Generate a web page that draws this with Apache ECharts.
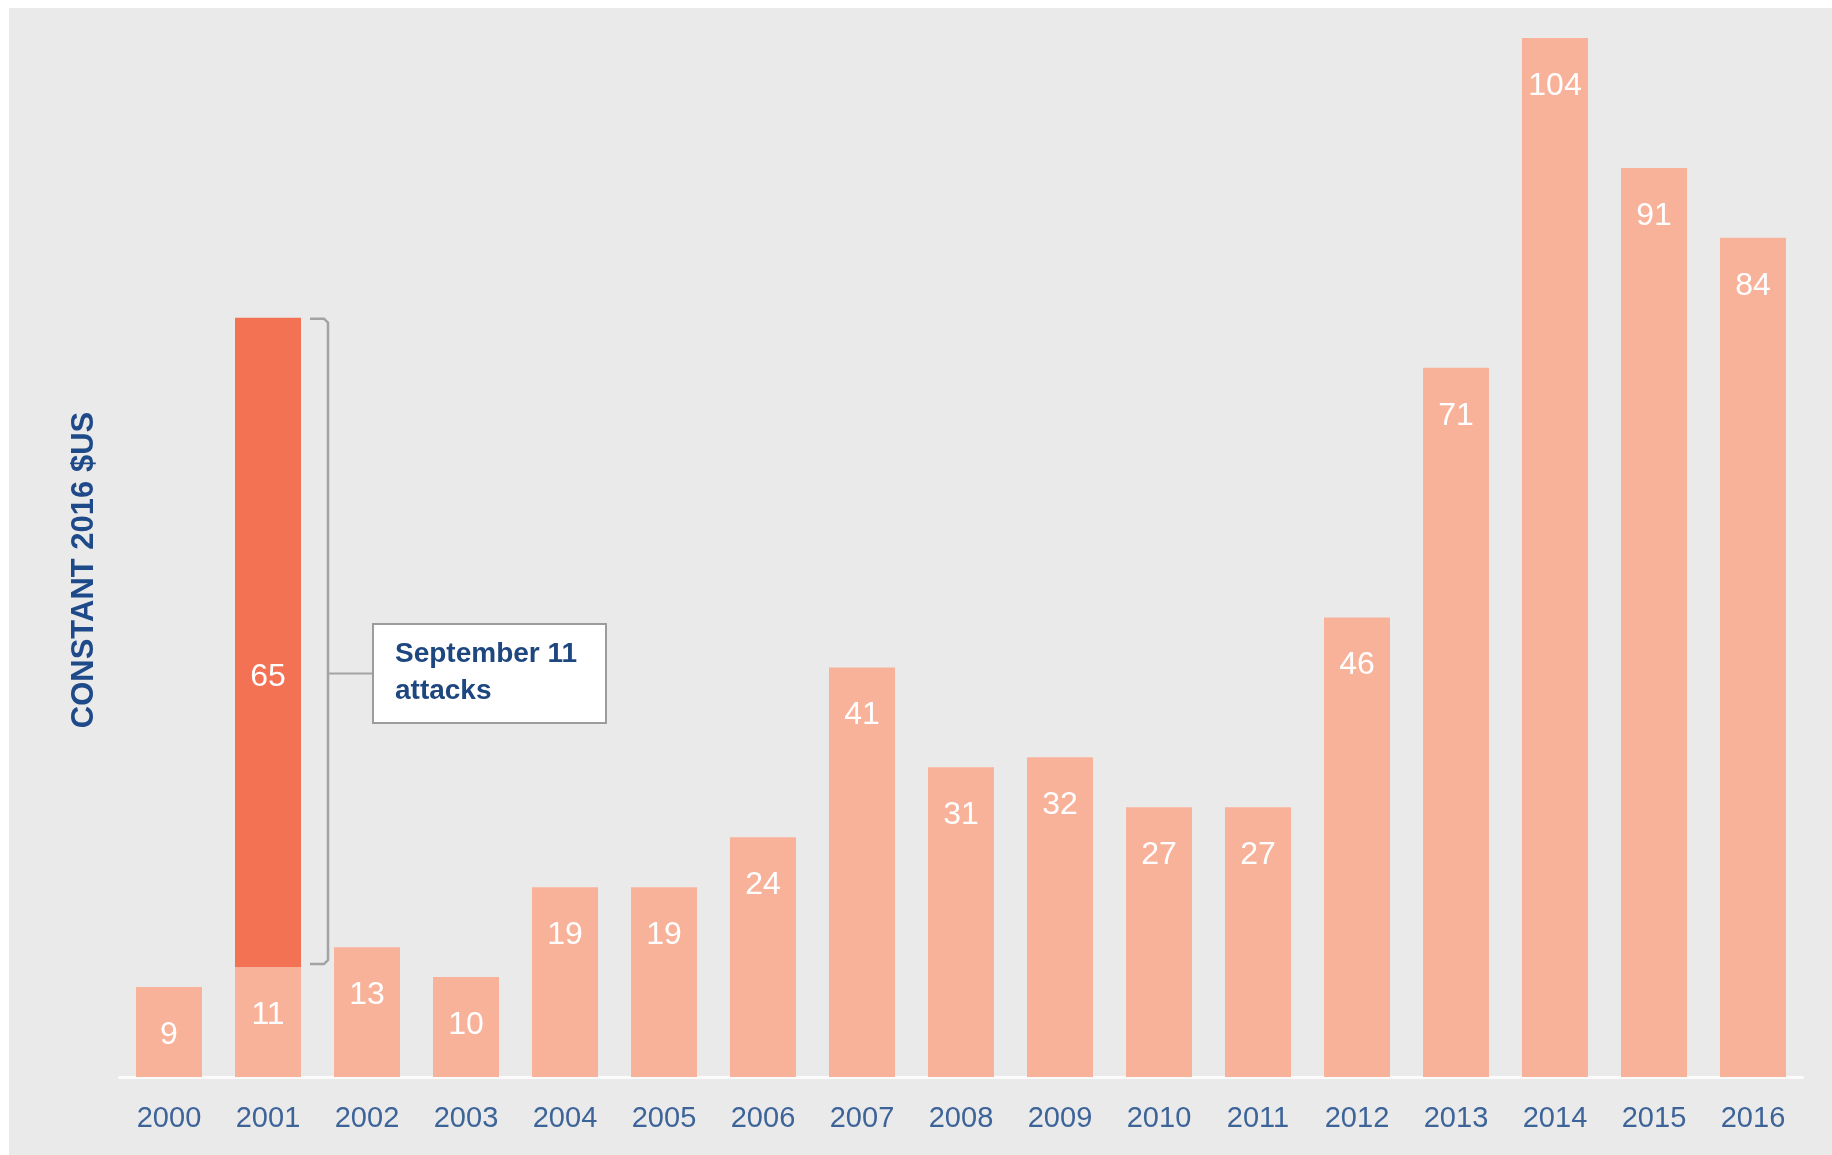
<!DOCTYPE html>
<html>
<head>
<meta charset="utf-8">
<title>Constant 2016 $US</title>
<script src="https://cdn.jsdelivr.net/npm/echarts@6/dist/echarts.min.js"></script>
<style>
  html, body { margin: 0; padding: 0; background: #fff; }
  #chart { width: 1832px; height: 1155px; }
</style>
</head>
<body>
<div id="chart"></div>
<script>
// 数据
const years = ['2000','2001','2002','2003','2004','2005','2006','2007','2008',
               '2009','2010','2011','2012','2013','2014','2015','2016'];
const baseValues = [9, 11, 13, 10, 19, 19, 24, 41, 31, 32, 27, 27, 46, 71, 104, 91, 84];
// 2001 年的额外部分（9·11）
const attackYear = '2001';
const attackValue = 65;
const attackNote = 'September 11\nattacks';
const axisTitle = 'CONSTANT 2016 $US';

const BAR_W = 66;
const chart = echarts.init(document.getElementById('chart'));

const attackData = years.map(y => (y === attackYear ? attackValue : '-'));

const option = {
  backgroundColor: '#ffffff',
  animation: false,
  grid: { left: 119.5, right: 29.5, top: 38, bottom: 78 },
  xAxis: {
    type: 'category',
    data: years,
    axisTick: { show: false },
    axisLine: { lineStyle: { color: '#fbfbfb', width: 3 } },
    axisLabel: {
      color: '#3d6499',
      fontFamily: 'Liberation Sans',
      fontSize: 29,
      margin: 27
    }
  },
  yAxis: {
    type: 'value',
    min: 0,
    max: 104,
    axisLabel: { show: false },
    axisLine: { show: false },
    axisTick: { show: false },
    splitLine: { show: false }
  },
  series: [
    {
      type: 'bar',
      stack: 'total',
      barWidth: BAR_W,
      data: baseValues,
      itemStyle: { color: '#f9b29a' },
      label: {
        show: true,
        position: 'insideTop',
        distance: 32,
        color: '#ffffff',
        fontFamily: 'Liberation Sans',
        fontSize: 32
      },
      z: 3
    },
    {
      type: 'bar',
      stack: 'total',
      barWidth: BAR_W,
      data: attackData,
      itemStyle: { color: '#f37254' },
      label: {
        show: true,
        position: 'inside',
        offset: [0, 35],
        color: '#ffffff',
        fontFamily: 'Liberation Sans',
        fontSize: 32
      },
      z: 3
    }
  ]
};
chart.setOption(option);

// 注释：括号 + 文本框，纵轴标题
function drawNote() {
  const idx = years.indexOf(attackYear);
  const base = baseValues[idx];
  const pTop = chart.convertToPixel({ gridIndex: 0 }, [idx, base + attackValue]);
  const pBot = chart.convertToPixel({ gridIndex: 0 }, [idx, base]);
  const right = pTop[0] + BAR_W / 2;
  const vx = right + 27;
  const x0 = right + 9;
  const top = pTop[1] + 1;
  const bot = pBot[1] - 3;
  const midY = (top + bot) / 2 + 32;
  const boxL = vx + 45, boxW = 233, boxH = 99;

  chart.setOption({
    graphic: [
      {
        type: 'rect',
        z: -10,
        silent: true,
        shape: { x: 9, y: 8, width: 1832, height: 1155 },
        style: { fill: '#eaeaea' }
      },
      {
        type: 'text',
        z: 5,
        x: 84,
        y: 570,
        rotation: Math.PI / 2,
        style: {
          text: axisTitle,
          fill: '#1f4a8a',
          font: 'bold 31px "Liberation Sans"',
          align: 'center',
          verticalAlign: 'middle'
        }
      },
      {
        type: 'polyline',
        z: 10,
        shape: {
          points: [[x0, top], [vx - 4, top], [vx, top + 4], [vx, bot - 4], [vx - 4, bot], [x0, bot]]
        },
        style: { stroke: '#a3a3a3', lineWidth: 2.5, fill: null }
      },
      {
        type: 'line',
        z: 10,
        shape: { x1: vx, y1: midY, x2: boxL, y2: midY },
        style: { stroke: '#a3a3a3', lineWidth: 2 }
      },
      {
        type: 'rect',
        z: 10,
        shape: { x: boxL, y: midY - boxH / 2, width: boxW, height: boxH },
        style: { fill: '#ffffff', stroke: '#9c9c9c', lineWidth: 2 }
      },
      {
        type: 'text',
        z: 11,
        x: boxL + 22,
        y: midY - 1,
        style: {
          text: attackNote,
          fill: '#1e477f',
          font: 'bold 28px "Liberation Sans"',
          lineHeight: 37,
          align: 'left',
          verticalAlign: 'middle'
        }
      }
    ]
  });
}
drawNote();
</script>
</body>
</html>
